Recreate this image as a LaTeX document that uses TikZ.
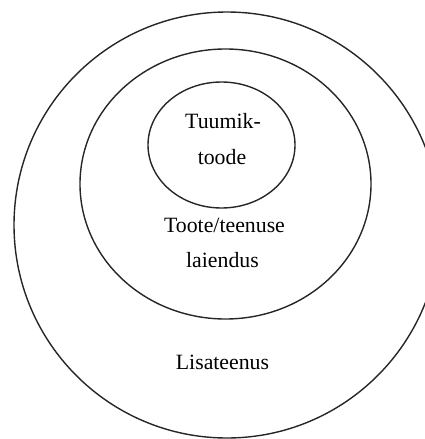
\documentclass[tikz,border=0pt]{standalone}
\usepackage{fontspec}
\setmainfont{Liberation Serif}
\begin{document}
\begin{tikzpicture}[x=1pt,y=-1pt,
  ring/.style={draw=black!85,line width=1.4pt},
  lbl/.style={anchor=base,inner sep=0pt,font=\fontsize{21.8}{26}\selectfont}]
\useasboundingbox (0,0) rectangle (425,439);
\clip (0,0) rectangle (425,439);
\draw[ring] (227,225) ellipse [x radius=213, y radius=213];
\draw[ring] (225.5,184) ellipse [x radius=145.5, y radius=135];
\draw[ring] (221.5,145) ellipse [x radius=73.5, y radius=63];
\node[lbl] (t1) at (223,128) {Tuumik-};
\node[lbl] (t2) at (222,164.5) {toode};
\node[lbl] (t3) at (224.5,232) {Toote/teenuse};
\node[lbl] (t4) at (222.5,267) {laiendus};
\node[lbl] (t5) at (222.5,369) {Lisateenus};
\end{tikzpicture}
\end{document}
